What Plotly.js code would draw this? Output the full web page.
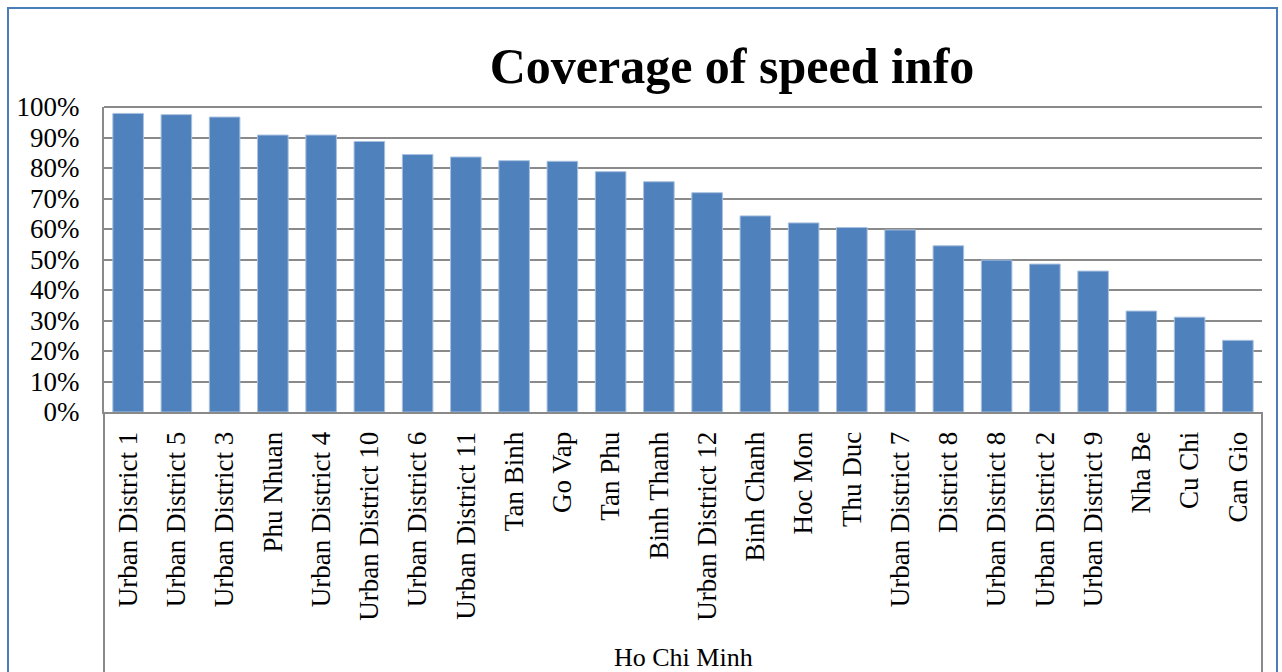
<!DOCTYPE html>
<html>
<head>
<meta charset="utf-8">
<script src="https://cdn.plot.ly/plotly-3.0.1.min.js"></script>
<style>
  html, body { margin: 0; padding: 0; background: #fff; }
  #chart { width: 1282px; height: 672px; }
</style>
</head>
<body>
<div id="chart"></div>
<script>
const districts = [
  "Urban District 1", "Urban District 5", "Urban District 3", "Phu Nhuan",
  "Urban District 4", "Urban District 10", "Urban District 6", "Urban District 11",
  "Tan Binh", "Go Vap", "Tan Phu", "Binh Thanh", "Urban District 12",
  "Binh Chanh", "Hoc Mon", "Thu Duc", "Urban District 7", "District 8",
  "Urban District 8", "Urban District 2", "Urban District 9", "Nha Be",
  "Cu Chi", "Can Gio"
];
const coverage = [
  97.9, 97.5, 96.7, 90.8, 90.8, 88.7, 84.4, 83.6,
  82.4, 82.2, 78.8, 75.5, 71.9, 64.3, 62.0, 60.5,
  59.7, 54.5, 49.8, 48.5, 46.2, 33.1, 31.1, 23.5
];
const yTicks = [0, 10, 20, 30, 40, 50, 60, 70, 80, 90, 100];
const groupLabel = "Ho Chi Minh";
const chartTitle = "Coverage of speed info";

const W = 1282, H = 672;
const L = 104, R = 20, T = 107, B = 260;
const pw = W - L - R, ph = H - T - B;
const px = x => (x - L) / pw;
const py = y => (H - B - y) / ph;

const serif = '"Liberation Serif", "Times New Roman", serif';
const gridColor = '#8a8a8a';

const data = [{
  type: 'bar',
  x: districts,
  y: coverage,
  marker: { color: '#4f81bd', line: { color: '#a9c1df', width: 1 } },
  hoverinfo: 'x+y'
}];

const layout = {
  width: W, height: H,
  margin: { l: L, r: R, t: T, b: B, pad: 0 },
  paper_bgcolor: '#ffffff',
  plot_bgcolor: '#ffffff',
  showlegend: false,
  bargap: 0.366,
  title: {
    text: '<b>' + chartTitle + '</b>',
    font: { family: serif, size: 50, color: '#000' },
    x: 732 / W, xref: 'container', xanchor: 'center',
    y: 1 - 65 / H, yref: 'container', yanchor: 'middle'
  },
  xaxis: {
    type: 'category',
    tickangle: -90,
    tickfont: { family: serif, size: 27, color: '#000' },
    ticklabelstandoff: 7,
    showline: true, linecolor: gridColor, linewidth: 2,
    showgrid: false, ticks: '', fixedrange: true
  },
  yaxis: {
    range: [0, 100],
    tickvals: yTicks,
    ticktext: yTicks.map(v => v + '%'),
    tickfont: { family: serif, size: 27, color: '#000' },
    ticklabelstandoff: 17,
    showline: true, linecolor: gridColor, linewidth: 2,
    showgrid: true, gridcolor: gridColor, gridwidth: 2,
    zeroline: false, ticks: '', fixedrange: true
  },
  shapes: [
    { type: 'line', xref: 'paper', yref: 'paper', x0: 0, x1: 1, y0: 1, y1: 1,
      line: { color: gridColor, width: 2 } },
    { type: 'line', xref: 'paper', yref: 'paper', x0: 0, x1: 0, y0: 0, y1: py(700),
      line: { color: gridColor, width: 2 } },
    { type: 'line', xref: 'paper', yref: 'paper', x0: 1, x1: 1, y0: 0, y1: py(700),
      line: { color: gridColor, width: 2 } },
    { type: 'rect', xref: 'paper', yref: 'paper',
      x0: px(8), x1: px(1277), y0: py(8), y1: py(700),
      line: { color: '#4a7ebb', width: 2 }, fillcolor: 'rgba(0,0,0,0)' }
  ],
  annotations: [{
    text: groupLabel, xref: 'paper', yref: 'paper',
    x: 0.5, y: py(657), xanchor: 'center', yanchor: 'middle',
    showarrow: false, font: { family: serif, size: 26, color: '#000' }
  }]
};

Plotly.newPlot('chart', data, layout, { displayModeBar: false, staticPlot: true });
</script>
</body>
</html>
